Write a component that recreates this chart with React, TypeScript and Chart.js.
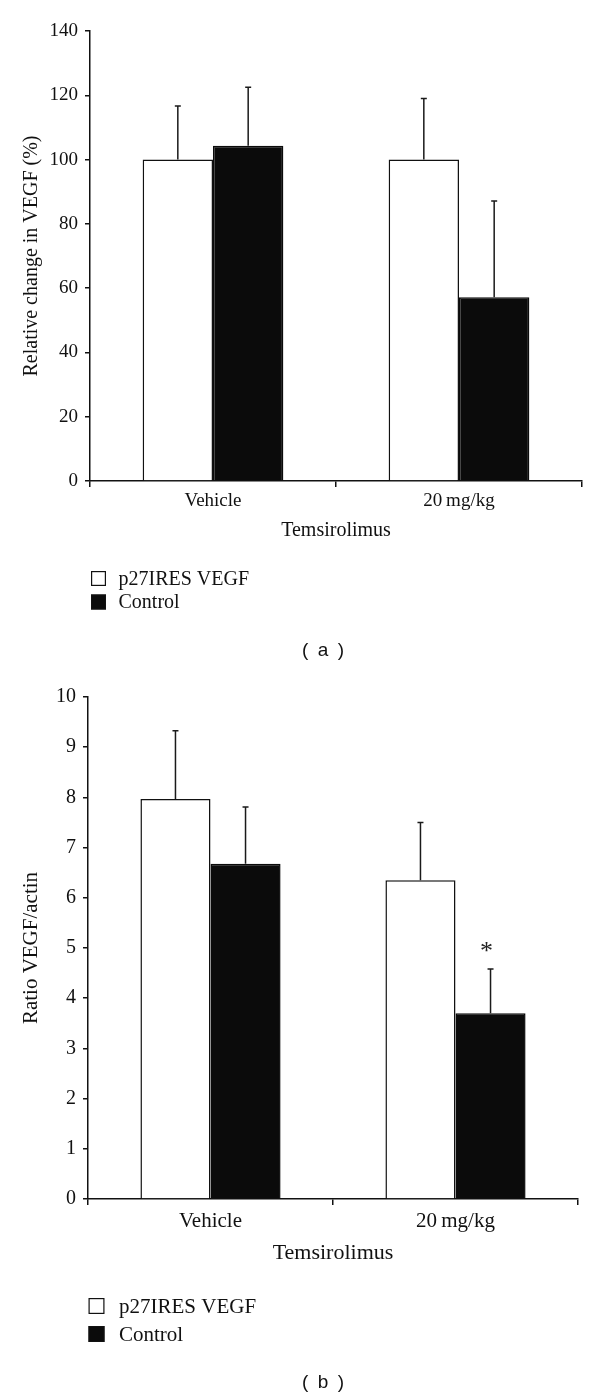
import React, { useEffect, useRef } from "react";
import { Chart, registerables } from "chart.js";

Chart.register(...registerables);

const SERIF = "'Liberation Serif', 'Times New Roman', serif";
const SANS = "'Liberation Sans', Arial, sans-serif";
const INK = "#111111";
const BLACK_FILL = "#0b0b0b";

// ---------- data ----------
const categories = ["Vehicle", "20\u2009mg/kg"];
const seriesNames = ["p27IRES VEGF", "Control"];
const xAxisTitle = "Temsirolimus";

// panel (a): relative change in VEGF (%)
const vegfTickValues = [0, 20, 40, 60, 80, 100, 120, 140];
const vegfP27 = [100, 100];
const vegfP27Sd = [16.7, 19.0];
const vegfControl = [104.3, 57.2];
const vegfControlSd = [18.2, 29.9];

// panel (b): ratio VEGF/actin
const ratioTickValues = [0, 1, 2, 3, 4, 5, 6, 7, 8, 9, 10];
const ratioP27 = [7.97, 6.35];
const ratioP27Sd = [1.36, 1.15];
const ratioControl = [6.68, 3.7];
const ratioControlSd = [1.13, 0.88];
const ratioControlMarks = ["", "*"];

// ---------- plugins ----------
const errorBarPlugin = {
  id: "errorBars",
  afterDatasetsDraw(chart: any, _args: any, opts: any) {
    const { ctx } = chart;
    const yScale = chart.scales.y;
    chart.data.datasets.forEach((ds: any, i: number) => {
      const meta = chart.getDatasetMeta(i);
      const sd: number[] = ds.sd || [];
      meta.data.forEach((bar: any, j: number) => {
        const v = ds.data[j];
        const e = sd[j];
        if (e == null) return;
        const yBase = yScale.getPixelForValue(v);
        const yTop = yScale.getPixelForValue(v + e);
        ctx.save();
        ctx.strokeStyle = "#1a1a1a";
        ctx.lineWidth = 1.5;
        ctx.beginPath();
        ctx.moveTo(bar.x, yBase);
        ctx.lineTo(bar.x, yTop);
        ctx.moveTo(bar.x - 3, yTop);
        ctx.lineTo(bar.x + 3, yTop);
        ctx.stroke();
        const mark = ds.marks && ds.marks[j];
        if (mark) {
          ctx.fillStyle = "#222";
          ctx.font = `${opts.markSize || 18}px ${SERIF}`;
          ctx.textAlign = "center";
          ctx.textBaseline = "alphabetic";
          ctx.fillText(mark, bar.x - 4, yTop - 10);
        }
        ctx.restore();
      });
    });
  },
};

const boxLegendPlugin = {
  id: "boxLegend",
  afterDraw(chart: any, _args: any, opts: any) {
    const { ctx, chartArea } = chart;
    const size = opts.boxSize;
    chart.data.datasets.forEach((ds: any, i: number) => {
      const top = chartArea.bottom + opts.offsetY + i * opts.rowGap;
      const left = chartArea.left + opts.offsetX;
      ctx.save();
      ctx.fillStyle = ds.backgroundColor;
      ctx.fillRect(left, top, size, size);
      ctx.strokeStyle = INK;
      ctx.lineWidth = 1.2;
      ctx.strokeRect(left + 0.6, top + 0.6, size - 1.2, size - 1.2);
      ctx.fillStyle = INK;
      ctx.font = `${opts.fontSize}px ${SERIF}`;
      ctx.textAlign = "left";
      ctx.textBaseline = "middle";
      ctx.fillText(ds.label, left + opts.textGap, top + size / 2 + 1);
      ctx.restore();
    });
  },
};

type PanelCfg = {
  height: number;
  top: number;
  rightPad: number;
  yWidth: number;
  xHeight: number;
  bottomPad: number;
  ticks: number[];
  yTitle: string;
  p27: number[];
  p27Sd: number[];
  ctrl: number[];
  ctrlSd: number[];
  ctrlMarks?: string[];
  tickFont: number;
  catFont: number;
  catPad: number;
  xTitleFont: number;
  yTitleFont: number;
  yTitlePad: number;
  markSize: number;
  legend: any;
};

function buildChart(canvas: HTMLCanvasElement, c: PanelCfg) {
  const step = c.ticks[1] - c.ticks[0];
  return new Chart(canvas, {
    type: "bar",
    data: {
      labels: categories,
      datasets: [
        {
          label: seriesNames[0],
          data: c.p27,
          sd: c.p27Sd,
          backgroundColor: "#ffffff",
          borderColor: INK,
          borderWidth: 1.5,
          categoryPercentage: 0.572,
          barPercentage: 1.0,
        } as any,
        {
          label: seriesNames[1],
          data: c.ctrl,
          sd: c.ctrlSd,
          marks: c.ctrlMarks,
          backgroundColor: BLACK_FILL,
          borderColor: BLACK_FILL,
          borderWidth: 1.5,
          categoryPercentage: 0.572,
          barPercentage: 1.0,
        } as any,
      ],
    },
    options: {
      animation: false,
      responsive: false,
      maintainAspectRatio: false,
      layout: {
        padding: { left: 0, top: c.top, right: c.rightPad, bottom: c.bottomPad },
      },
      plugins: {
        legend: { display: false },
        tooltip: { enabled: false },
        title: { display: false },
        boxLegend: c.legend,
        errorBars: { markSize: c.markSize },
      } as any,
      scales: {
        x: {
          grid: {
            display: true,
            drawOnChartArea: false,
            drawTicks: true,
            tickLength: 6,
            color: INK,
            lineWidth: 1.5,
          },
          border: { display: true, color: INK, width: 1.5 },
          ticks: {
            color: INK,
            padding: c.catPad,
            font: { family: SERIF, size: c.catFont },
          },
          title: {
            display: true,
            text: xAxisTitle,
            color: INK,
            font: { family: SERIF, size: c.xTitleFont },
            padding: { top: 0, bottom: 0 },
          },
          afterFit: (s: any) => {
            s.height = c.xHeight;
          },
        },
        y: {
          min: c.ticks[0],
          max: c.ticks[c.ticks.length - 1],
          grid: {
            display: true,
            drawOnChartArea: false,
            drawTicks: true,
            tickLength: 5,
            color: INK,
            lineWidth: 1.5,
          },
          border: { display: true, color: INK, width: 1.5 },
          ticks: {
            stepSize: step,
            color: INK,
            padding: 7,
            font: { family: SERIF, size: c.tickFont },
          },
          title: {
            display: true,
            text: c.yTitle,
            color: INK,
            font: { family: SERIF, size: c.yTitleFont },
            padding: { top: c.yTitlePad, bottom: 0 },
          },
          afterFit: (s: any) => {
            s.width = c.yWidth;
          },
        },
      },
    },
    plugins: [errorBarPlugin as any, boxLegendPlugin as any],
  });
}

const panelA: PanelCfg = {
  height: 670,
  top: 31,
  rightPad: 18,
  yWidth: 90,
  xHeight: 62,
  bottomPad: 670 - 481 - 62,
  ticks: vegfTickValues,
  yTitle: "Relative change in VEGF (%)",
  p27: vegfP27,
  p27Sd: vegfP27Sd,
  ctrl: vegfControl,
  ctrlSd: vegfControlSd,
  tickFont: 19,
  catFont: 19,
  catPad: 3,
  xTitleFont: 20,
  yTitleFont: 20,
  yTitlePad: 20,
  markSize: 24,
  legend: { offsetX: 1, offsetY: 90, rowGap: 23.5, boxSize: 15, textGap: 27.5, fontSize: 20 },
};

const panelB: PanelCfg = {
  height: 729,
  top: 27,
  rightPad: 22,
  yWidth: 88,
  xHeight: 67,
  bottomPad: 729 - 529 - 67,
  ticks: ratioTickValues,
  yTitle: "Ratio VEGF/actin",
  p27: ratioP27,
  p27Sd: ratioP27Sd,
  ctrl: ratioControl,
  ctrlSd: ratioControlSd,
  ctrlMarks: ratioControlMarks,
  tickFont: 20,
  catFont: 21,
  catPad: 4,
  xTitleFont: 22,
  yTitleFont: 21,
  yTitlePad: 19,
  markSize: 26,
  legend: { offsetX: 0.5, offsetY: 99, rowGap: 28, boxSize: 16, textGap: 30.5, fontSize: 21 },
};

function Panel({ cfg, top }: { cfg: PanelCfg; top: number }) {
  const ref = useRef<HTMLCanvasElement | null>(null);
  useEffect(() => {
    if (!ref.current) return;
    const chart = buildChart(ref.current, cfg);
    return () => chart.destroy();
  }, [cfg]);
  return (
    <canvas
      ref={ref}
      width={600}
      height={cfg.height}
      style={{ position: "absolute", left: 0, top, width: 600, height: cfg.height, display: "block" }}
    />
  );
}

function Caption({ text, cx, cy }: { text: string; cx: number; cy: number }) {
  return (
    <div
      style={{
        position: "absolute",
        left: cx - 50,
        top: cy - 13,
        width: 100,
        height: 26,
        lineHeight: "26px",
        textAlign: "center",
        fontFamily: SANS,
        fontSize: 19,
        color: INK,
        whiteSpace: "pre",
      }}
    >
      {text}
    </div>
  );
}

export default function App() {
  return (
    <div
      style={{
        position: "absolute",
        left: 0,
        top: 0,
        width: 600,
        height: 1399,
        background: "#ffffff",
        overflow: "hidden",
      }}
    >
      <Panel cfg={panelA} top={0} />
      <Caption text={"(\u2002a\u2002)"} cx={323} cy={650} />
      <Panel cfg={panelB} top={670} />
      <Caption text={"(\u2002b\u2002)"} cx={323} cy={1382} />
    </div>
  );
}
